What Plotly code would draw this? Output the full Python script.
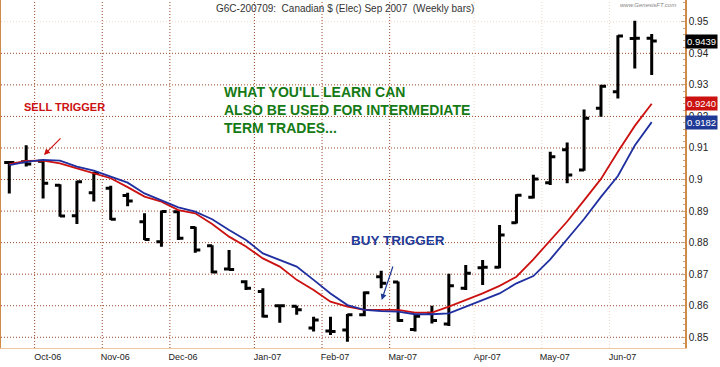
import plotly.graph_objects as go
import pandas as pd

# ---- data (weekly bars, week ending Friday) ----
weeks = pd.date_range("2006-09-22", periods=39, freq="W-FRI")
opens = [0.9054, 0.9056, 0.9058, 0.8982, 0.8885, 0.8958, 0.8972, 0.8949, 0.8866, 0.8803,
         0.8898, 0.8848, 0.8790, 0.8716, 0.8676, 0.8645, 0.8600, 0.8598, 0.8529, 0.8520,
         0.8523, 0.8571, 0.8692, 0.8675, 0.8525, 0.8576, 0.8542, 0.8655, 0.8720, 0.8722,
         0.8863, 0.8944, 0.8990, 0.9094, 0.9030, 0.9226, 0.9278, 0.9447, 0.9448]
highs = [0.9058, 0.9109, 0.9061, 0.8985, 0.8996, 0.9025, 0.8980, 0.8958, 0.8893, 0.8901,
         0.8903, 0.8850, 0.8792, 0.8777, 0.8681, 0.8655, 0.8602, 0.8600, 0.8565, 0.8565,
         0.8574, 0.8645, 0.8711, 0.8677, 0.8571, 0.8600, 0.8701, 0.8729, 0.8745, 0.8856,
         0.8953, 0.9015, 0.9088, 0.9117, 0.9222, 0.9300, 0.9457, 0.9503, 0.9461]
lows = [0.8956, 0.9041, 0.8940, 0.8882, 0.8859, 0.8930, 0.8872, 0.8915, 0.8808, 0.8787,
        0.8808, 0.8768, 0.8703, 0.8713, 0.8650, 0.8563, 0.8546, 0.8571, 0.8518, 0.8507,
        0.8486, 0.8567, 0.8655, 0.8549, 0.8518, 0.8544, 0.8536, 0.8650, 0.8666, 0.8719,
        0.8861, 0.8940, 0.8983, 0.8988, 0.9028, 0.9199, 0.9257, 0.9352, 0.9331]
closes = [0.9054, 0.9049, 0.8988, 0.8884, 0.8993, 0.9020, 0.8874, 0.8932, 0.8810, 0.8899,
          0.8814, 0.8777, 0.8707, 0.8715, 0.8655, 0.8567, 0.8600, 0.8587, 0.8555, 0.8518,
          0.8571, 0.8641, 0.8671, 0.8553, 0.8567, 0.8553, 0.8663, 0.8703, 0.8722, 0.8824,
          0.8950, 0.9002, 0.9072, 0.9014, 0.9194, 0.9296, 0.9455, 0.9448, 0.9439]
ma_red = [0.9049, 0.9059, 0.9060, 0.9051, 0.9035, 0.9020, 0.9004, 0.8976, 0.8946, 0.8930,
          0.8903, 0.8893, 0.8859, 0.8819, 0.8788, 0.8750, 0.8724, 0.8682, 0.8650, 0.8613,
          0.8597, 0.8587, 0.8587, 0.8587, 0.8578, 0.8578, 0.8597, 0.8618, 0.8639, 0.8663,
          0.8692, 0.8747, 0.8807, 0.8867, 0.8934, 0.9002, 0.9088, 0.9170, 0.9240]
ma_blue = [0.9046, 0.9056, 0.9062, 0.9060, 0.9041, 0.9028, 0.9009, 0.8990, 0.8956, 0.8935,
           0.8912, 0.8898, 0.8874, 0.8840, 0.8808, 0.8766, 0.8745, 0.8724, 0.8682, 0.8639,
           0.8602, 0.8587, 0.8583, 0.8581, 0.8573, 0.8573, 0.8576, 0.8597, 0.8618, 0.8639,
           0.8671, 0.8694, 0.8747, 0.8811, 0.8875, 0.8945, 0.9011, 0.9108, 0.9182]
y_ticks = [0.85, 0.86, 0.87, 0.88, 0.89, 0.90, 0.91, 0.92, 0.93, 0.94, 0.95]
faint_months = ["Apr-07", "May-07", "Jun-07"]

idx = list(range(len(weeks)))
bounds, month_labels = [], []
for i in range(1, len(weeks)):
    if weeks[i].month != weeks[i - 1].month:
        bounds.append(i - 0.5)
        month_labels.append(weeks[i].strftime("%b-%y"))

FONT = "Arial, Liberation Sans, sans-serif"
GRID = "#9c4a2a"
FAINT = "#f2d8c2"

fig = go.Figure()
fig.add_trace(go.Ohlc(
    x=idx, open=opens, high=highs, low=lows, close=closes,
    increasing=dict(line=dict(color="black", width=3)),
    decreasing=dict(line=dict(color="black", width=3)),
    tickwidth=0.3, showlegend=False, hoverinfo="skip"))
fig.add_trace(go.Scatter(x=idx, y=ma_red, mode="lines",
                         line=dict(color="#cc1111", width=1.8), showlegend=False))
fig.add_trace(go.Scatter(x=idx, y=ma_blue, mode="lines",
                         line=dict(color="#1f2fa0", width=1.8), showlegend=False))

shapes = []
for b, lab in zip(bounds, month_labels):
    shapes.append(dict(type="line", xref="x", yref="paper", x0=b, x1=b, y0=0, y1=1,
                       layer="below",
                       line=dict(color=FAINT if lab in faint_months else GRID,
                                 width=1, dash="1px,2px")))
for v in y_ticks:
    shapes.append(dict(type="line", xref="paper", yref="y", x0=0, x1=1, y0=v, y1=v,
                       layer="below",
                       line=dict(color=FAINT if v == y_ticks[-1] else GRID,
                                 width=1, dash="1px,2px")))

annotations = [
    dict(text="G6C-200709:  Canadian $ (Elec) Sep 2007  (Weekly bars)", xref="paper", yref="paper",
         x=0.311, y=1, xanchor="left", yanchor="top", yshift=-1, showarrow=False,
         font=dict(family=FONT, size=10, color="#333333")),
    dict(text="www.GenesisFT.com", xref="paper", yref="paper", x=0.99, y=1,
         xanchor="right", yanchor="top", showarrow=False,
         font=dict(family=FONT, size=6, color="#888888", style="italic")),
    dict(text="<b>SELL TRIGGER</b>", x=0.75, y=0.923, xanchor="left", yanchor="middle",
         showarrow=False, font=dict(family=FONT, size=11, color="#cc1111")),
    dict(text="<b>WHAT YOU'LL LEARN CAN<br>ALSO BE USED FOR INTERMEDIATE<br>TERM TRADES...</b>",
         x=12.59, y=0.922, xanchor="left", yanchor="middle", align="left", showarrow=False,
         font=dict(family=FONT, size=14, color="#157a15")),
    dict(text="<b>BUY TRIGGER</b>", x=20.1, y=0.8808, xanchor="left", yanchor="middle",
         showarrow=False, font=dict(family=FONT, size=13.5, color="#1f3a96")),
    dict(x=2.05, y=0.9078, ax=3.12, ay=0.9135, xref="x", yref="y", axref="x", ayref="y",
         text="", showarrow=True, arrowhead=2, arrowsize=1, arrowwidth=1.2, arrowcolor="#cc1111"),
    dict(x=22.03, y=0.8618, ax=22.72, ay=0.8729, xref="x", yref="y", axref="x", ayref="y",
         text="", showarrow=True, arrowhead=2, arrowsize=1, arrowwidth=1.2, arrowcolor="#1f3a96"),
]
for val, bg in [(closes[-1], "#000000"), (ma_red[-1], "#cc1111"), (ma_blue[-1], "#1f3a96")]:
    annotations.append(dict(text=f"{val:.4f}", xref="paper", yref="y", x=1, y=val,
                            xanchor="left", yanchor="middle", showarrow=False,
                            bgcolor=bg, borderpad=1,
                            font=dict(family=FONT, size=9.5, color="white")))

fig.update_layout(
    width=720, height=367,
    margin=dict(l=1, r=35, t=0, b=19),
    paper_bgcolor="white", plot_bgcolor="white",
    font=dict(family=FONT, color="#222222"),
    shapes=shapes, annotations=annotations,
    xaxis=dict(range=[-0.49, 39.97], tickmode="array", tickvals=bounds, ticktext=month_labels,
               ticklabelshift=13, showgrid=False, zeroline=False, ticks="",
               showline=True, linecolor="#f0c8a0", linewidth=1,
               tickfont=dict(family=FONT, size=9, color="#222222"),
               rangeslider=dict(visible=False), fixedrange=True),
    yaxis=dict(range=[0.8466, 0.9569], side="right", tickmode="array", tickvals=y_ticks,
               ticktext=[f"{v:g}" for v in y_ticks], showgrid=False, zeroline=False,
               showline=True, mirror=True, linecolor="#d08a4a", linewidth=1.5,
               ticks="inside", ticklen=4, tickcolor="#c8a27a",
               minor=dict(ticks="inside", dtick=0.002, ticklen=2, tickcolor="#c8a27a"),
               tickfont=dict(family=FONT, size=10, color="#222222"), fixedrange=True),
)

fig.write_html("out.html", config={"displayModeBar": False},
               post_script="document.body.style.margin='0px';document.body.style.overflow='hidden';")
